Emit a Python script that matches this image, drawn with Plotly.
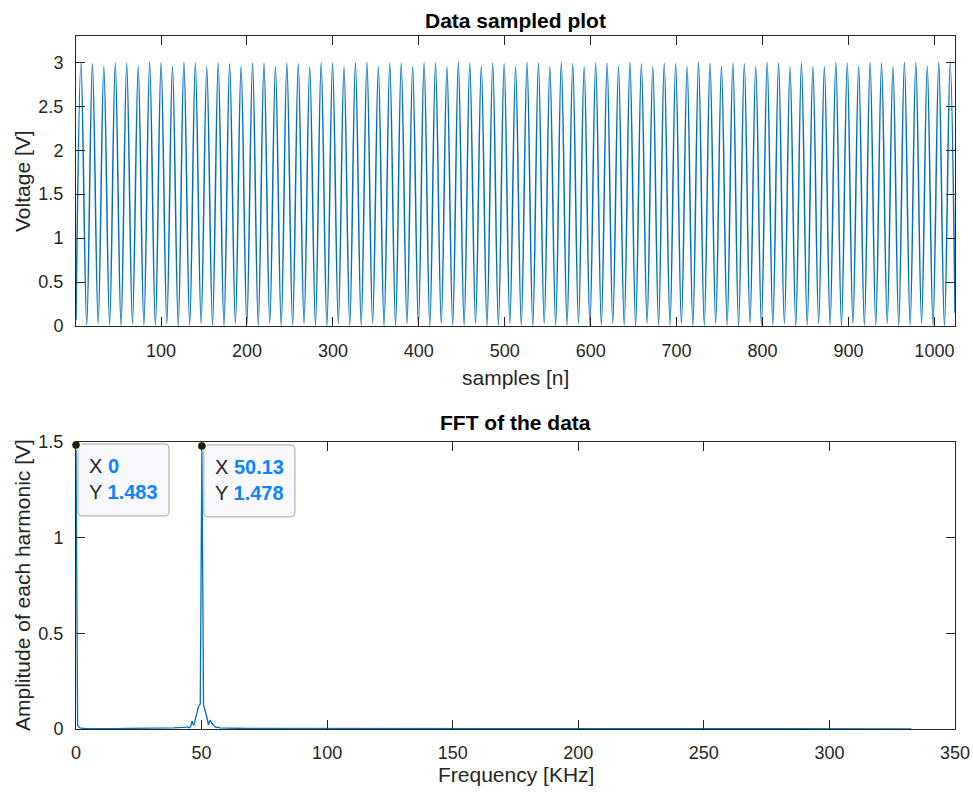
import plotly.graph_objects as go

# ---------------- data ----------------
# Top plot: sampled signal, described by its extreme points
start_sample = [1]
start_volt = [0.07]
end_sample = [1024]
end_volt = [0.15]

peak_samples = [6.8, 20.1, 33.4, 46.7, 60.0, 73.4, 86.7, 100.0, 113.3, 126.6,
                139.9, 153.2, 166.5, 179.8, 193.1, 206.5, 219.8, 233.1, 246.4, 259.7,
                273.0, 286.3, 299.6, 312.9, 326.2, 339.6, 352.9, 366.2, 379.5, 392.8,
                406.1, 419.4, 432.7, 446.0, 459.3, 472.7, 486.0, 499.3, 512.6, 525.9,
                539.2, 552.5, 565.8, 579.1, 592.4, 605.8, 619.1, 632.4, 645.7, 659.0,
                672.3, 685.6, 698.9, 712.2, 725.5, 738.9, 752.2, 765.5, 778.8, 792.1,
                805.4, 818.7, 832.0, 845.3, 858.6, 872.0, 885.3, 898.6, 911.9, 925.2,
                938.5, 951.8, 965.1, 978.4, 991.7, 1005.1, 1018.4]
peak_volts = [3.00, 2.985, 2.95, 2.99, 2.99, 2.95, 3.00, 2.995, 2.955, 3.00,
              2.99, 2.95, 2.99, 2.985, 2.955, 2.99, 2.99, 2.95, 2.99, 2.985,
              2.95, 2.995, 2.99, 2.95, 2.995, 3.00, 2.95, 2.99, 2.99, 2.95,
              2.995, 2.99, 2.95, 3.00, 2.99, 2.955, 2.99, 2.985, 2.95, 3.00,
              2.99, 2.95, 3.00, 2.985, 2.95, 2.99, 2.99, 2.95, 3.00, 2.985,
              2.95, 2.99, 2.985, 2.95, 3.00, 2.99, 2.955, 2.99, 2.985, 2.95,
              3.00, 2.99, 2.95, 2.995, 2.95, 2.95, 3.00, 2.99, 2.955, 3.00,
              2.99, 2.95, 3.00, 3.00, 2.955, 3.00, 3.00]
trough_samples = [13.5, 26.8, 40.1, 53.4, 66.7, 80.0, 93.4, 106.7, 120.0, 133.3,
                  146.6, 159.9, 173.2, 186.5, 199.8, 213.1, 226.5, 239.8, 253.1, 266.4,
                  279.7, 293.0, 306.3, 319.6, 332.9, 346.2, 359.5, 372.9, 386.2, 399.5,
                  412.8, 426.1, 439.4, 452.7, 466.0, 479.3, 492.6, 505.9, 519.2, 532.6,
                  545.9, 559.2, 572.5, 585.8, 599.1, 612.4, 625.7, 639.0, 652.3, 665.6,
                  679.0, 692.3, 705.6, 718.9, 732.2, 745.5, 758.8, 772.1, 785.4, 798.7,
                  812.0, 825.4, 838.7, 852.0, 865.3, 878.6, 891.9, 905.2, 918.5, 931.8,
                  945.1, 958.5, 971.8, 985.1, 998.4, 1011.7]
trough_volts = [0.01, 0.03, 0.01, 0.0, 0.03, 0.01, 0.01, 0.03, 0.0, 0.01,
                0.03, 0.01, 0.0, 0.03, 0.01, 0.01, 0.03, 0.0, 0.01, 0.03,
                0.01, 0.0, 0.03, 0.01, 0.01, 0.03, 0.0, 0.01, 0.03, 0.01,
                0.0, 0.03, 0.01, 0.01, 0.03, 0.0, 0.01, 0.03, 0.01, 0.0,
                0.03, 0.01, 0.01, 0.03, 0.0, 0.01, 0.03, 0.01, 0.0, 0.03,
                0.01, 0.01, 0.03, 0.0, 0.01, 0.03, 0.01, 0.0, 0.03, 0.01,
                0.01, 0.03, 0.0, 0.01, 0.03, 0.01, 0.0, 0.03, 0.01, 0.01,
                0.03, 0.0, 0.01, 0.03, 0.01, 0.0]

# Bottom plot: FFT amplitude spectrum
fft_freq = [0, 0.65, 1.30, 1.95, 3.26, 6.51, 10.42, 15.63, 20.18, 25.39,
            30.60, 33.85, 36.46, 39.06, 40.36, 41.67, 42.97, 43.62, 44.27, 44.92,
            45.57, 46.22, 46.87, 47.53, 48.18, 48.83, 49.48, 50.13, 50.78, 51.43,
            52.08, 52.73, 53.39, 54.04, 54.69, 55.34, 55.99, 56.64, 57.29, 58.59,
            60.55, 63.80, 67.71, 72.92, 80.73, 90.50, 101.56, 120.0, 150.0, 180.0,
            210.0, 240.0, 270.0, 300.0, 332.68]
fft_amp = [1.483, 0.02, 0.008, 0.004, 0.003, 0.002, 0.003, 0.002, 0.003, 0.003,
           0.004, 0.005, 0.004, 0.006, 0.007, 0.006, 0.005, 0.008, 0.012, 0.006,
           0.010, 0.042, 0.018, 0.050, 0.095, 0.120, 0.130, 1.478, 0.125, 0.100,
           0.065, 0.020, 0.047, 0.030, 0.020, 0.012, 0.008, 0.010, 0.006, 0.005,
           0.004, 0.004, 0.003, 0.003, 0.002, 0.002, 0.002, 0.001, 0.001, 0.001,
           0.001, 0.001, 0.001, 0.001, 0.001]

tip_x = [0, 50.13]
tip_y = [1.483, 1.478]
tip_labels_x = ["0", "50.13"]
tip_labels_y = ["1.483", "1.478"]

x_ticks_top = [100, 200, 300, 400, 500, 600, 700, 800, 900, 1000]
y_ticks_top = [0, 0.5, 1, 1.5, 2, 2.5, 3]
y_tick_text_top = ["0", "0.5", "1", "1.5", "2", "2.5", "3"]
x_ticks_bot = [0, 50, 100, 150, 200, 250, 300, 350]
y_ticks_bot = [0, 0.5, 1, 1.5]
y_tick_text_bot = ["0", "0.5", "1", "1.5"]

# ---------------- build ----------------
W, H = 973, 793
FONT = "Liberation Sans, Arial, Helvetica, sans-serif"
INK = "#262626"
BLUE = "#0072BD"
TIPBLUE = "#0a84ff"


def px(x):
    return x / W


def py(y):
    return 1 - y / H


pts = list(zip(start_sample, start_volt)) + list(zip(peak_samples, peak_volts)) + \
    list(zip(trough_samples, trough_volts)) + list(zip(end_sample, end_volt))
pts.sort(key=lambda p: p[0])
sig_x = [p[0] for p in pts]
sig_y = [p[1] for p in pts]

fig = go.Figure()
fig.add_trace(go.Scatter(x=sig_x, y=sig_y, mode="lines",
                         line=dict(color=BLUE, width=1.5, shape="spline", smoothing=1.0),
                         xaxis="x", yaxis="y", hoverinfo="skip"))
fig.add_trace(go.Scatter(x=fft_freq, y=fft_amp, mode="lines",
                         line=dict(color=BLUE, width=1.3),
                         xaxis="x2", yaxis="y2", hoverinfo="skip"))
fig.add_trace(go.Scatter(x=tip_x, y=tip_y, mode="markers", cliponaxis=False,
                         marker=dict(size=9, color="#1a1a1a",
                                     line=dict(color="#fbf7c6", width=1.5)),
                         xaxis="x2", yaxis="y2", hoverinfo="skip"))

xdom = [px(76), px(955)]
axis_common = dict(showline=True, linecolor=INK, linewidth=1, mirror="ticks",
                   ticks="inside", ticklen=9, tickwidth=1, tickcolor=INK,
                   showgrid=False, zeroline=False, automargin=False,
                   tickfont=dict(family=FONT, size=18, color=INK))

fig.update_layout(
    width=W, height=H, autosize=False,
    margin=dict(l=0, r=0, t=0, b=0, pad=0),
    paper_bgcolor="white", plot_bgcolor="white",
    showlegend=False,
    xaxis=dict(domain=xdom, range=[1, 1024], tickvals=x_ticks_top,
               ticklabelstandoff=8, anchor="y", **axis_common),
    yaxis=dict(domain=[py(326), py(36)], range=[0, 3.3], tickvals=y_ticks_top,
               ticktext=y_tick_text_top, ticklabelstandoff=8, anchor="x", **axis_common),
    xaxis2=dict(domain=xdom, range=[0, 350], tickvals=x_ticks_bot,
                ticklabelstandoff=7, anchor="y2", **axis_common),
    yaxis2=dict(domain=[py(729), py(441.7)], range=[0, 1.5], tickvals=y_ticks_bot,
                ticktext=y_tick_text_bot, ticklabelstandoff=8, anchor="x2", **axis_common),
)


def rounded_rect(x0, x1, y0, y1, r):
    return (f"M {x0 + r},{y1} L {x1 - r},{y1} Q {x1},{y1} {x1},{y1 - r} "
            f"L {x1},{y0 + r} Q {x1},{y0} {x1 - r},{y0} L {x0 + r},{y0} "
            f"Q {x0},{y0} {x0},{y0 + r} L {x0},{y1 - r} Q {x0},{y1} {x0 + r},{y1} Z")


shapes = []
annotations = []
for tx, ty, lx, ly in zip(tip_x, tip_y, tip_labels_x, tip_labels_y):
    shapes.append(dict(type="path", xref="x2", yref="y2",
                       xsizemode="pixel", ysizemode="pixel",
                       xanchor=tx, yanchor=ty,
                       path=rounded_rect(2, 93, -71, 1, 4),
                       fillcolor="#f8f8fd", line=dict(color="#a6a6a6", width=1),
                       layer="below"))
    annotations.append(dict(
        x=tx, y=ty, xref="x2", yref="y2", showarrow=False,
        xanchor="left", yanchor="middle", xshift=11, yshift=-34, align="left",
        text=(f"X <b><span style='color:{TIPBLUE}'>{lx}</span></b><br>"
              f"Y <b><span style='color:{TIPBLUE}'>{ly}</span></b>"),
        font=dict(family=FONT, size=20, color=INK)))

label_font = dict(family=FONT, size=21, color=INK)
title_font = dict(family=FONT, size=21, color="#000000")
annotations += [
    dict(x=px(515.5), y=py(20), xref="paper", yref="paper", showarrow=False,
         text="<b>Data sampled plot</b>", font=title_font, xanchor="center", yanchor="middle"),
    dict(x=px(515.5), y=py(422), xref="paper", yref="paper", showarrow=False,
         text="<b>FFT of the data</b>", font=title_font, xanchor="center", yanchor="middle"),
    dict(x=px(515.5), y=py(377), xref="paper", yref="paper", showarrow=False,
         text="samples [n]", font=label_font, xanchor="center", yanchor="middle"),
    dict(x=px(515.5), y=py(774), xref="paper", yref="paper", showarrow=False,
         text="Frequency [KHz]", font=label_font, xanchor="center", yanchor="middle"),
    dict(x=px(22), y=py(181), xref="paper", yref="paper", showarrow=False,
         text="Voltage [V]", font=label_font, textangle=-90,
         xanchor="center", yanchor="middle"),
    dict(x=px(22), y=py(585), xref="paper", yref="paper", showarrow=False,
         text="Amplitude of each harmonic [V]", font=label_font, textangle=-90,
         xanchor="center", yanchor="middle"),
]

fig.update_layout(shapes=shapes, annotations=annotations)
fig.write_html("out.html",
               config={"displayModeBar": False},
               post_script="document.body.style.margin='0';"
                           "document.body.style.overflow='hidden';")
